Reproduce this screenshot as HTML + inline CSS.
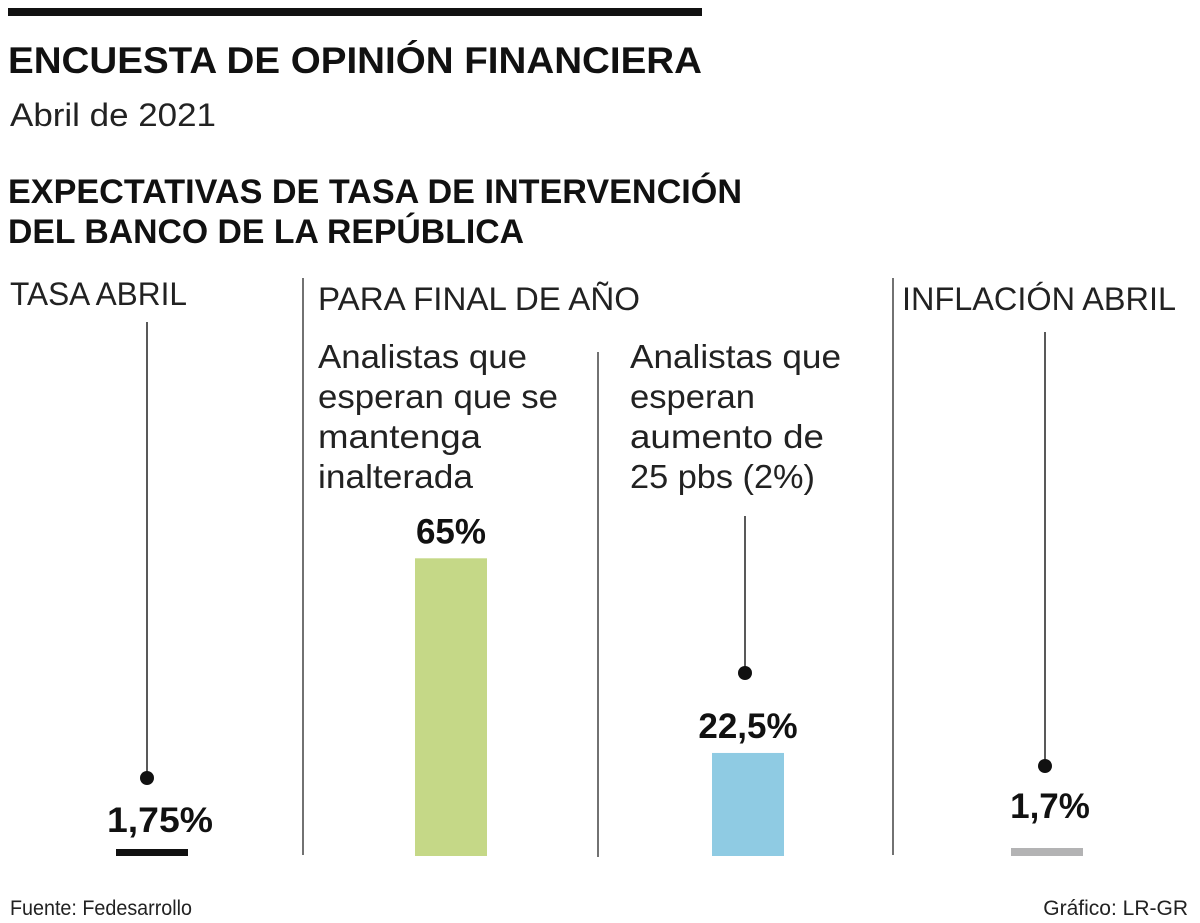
<!DOCTYPE html>
<html><head><meta charset="utf-8"><style>
html,body{margin:0;padding:0;background:#fff;}
svg{display:block;font-family:"Liberation Sans",sans-serif;}
</style></head><body>
<svg id="chart" width="1200" height="923" viewBox="0 0 1200 923">
<rect x="8" y="8" width="694" height="8" fill="#111"/>
<text x="8" y="73" font-size="37" font-weight="bold" textLength="694" lengthAdjust="spacingAndGlyphs" fill="#111">ENCUESTA DE OPINIÓN FINANCIERA</text>
<text x="10" y="126" font-size="32" textLength="206" lengthAdjust="spacingAndGlyphs" fill="#222">Abril de 2021</text>
<text x="8" y="203" font-size="34" font-weight="bold" textLength="734" lengthAdjust="spacingAndGlyphs" fill="#111">EXPECTATIVAS DE TASA DE INTERVENCIÓN</text>
<text x="8" y="243" font-size="34" font-weight="bold" textLength="516" lengthAdjust="spacingAndGlyphs" fill="#111">DEL BANCO DE LA REPÚBLICA</text>

<text x="10" y="305" font-size="32" textLength="177" lengthAdjust="spacingAndGlyphs" fill="#222">TASA ABRIL</text>
<text x="318" y="310" font-size="32" textLength="322" lengthAdjust="spacingAndGlyphs" fill="#222">PARA FINAL DE AÑO</text>
<text x="902" y="310" font-size="32" textLength="274" lengthAdjust="spacingAndGlyphs" fill="#222">INFLACIÓN ABRIL</text>

<line x1="303" y1="278" x2="303" y2="855" stroke="#444" stroke-width="1.5"/>
<line x1="598" y1="352" x2="598" y2="857" stroke="#444" stroke-width="1.5"/>
<line x1="893" y1="278" x2="893" y2="855" stroke="#444" stroke-width="1.5"/>

<g font-size="33" fill="#222">
<text x="318" y="368" textLength="209" lengthAdjust="spacingAndGlyphs">Analistas que</text>
<text x="318" y="408" textLength="240" lengthAdjust="spacingAndGlyphs">esperan que se</text>
<text x="318" y="448" textLength="163" lengthAdjust="spacingAndGlyphs">mantenga</text>
<text x="318" y="488" textLength="155" lengthAdjust="spacingAndGlyphs">inalterada</text>
</g>
<g font-size="33" fill="#222">
<text x="630" y="368" textLength="211" lengthAdjust="spacingAndGlyphs">Analistas que</text>
<text x="630" y="408" textLength="125" lengthAdjust="spacingAndGlyphs">esperan</text>
<text x="630" y="448" textLength="194" lengthAdjust="spacingAndGlyphs">aumento de</text>
<text x="630" y="488" textLength="185" lengthAdjust="spacingAndGlyphs">25 pbs (2%)</text>
</g>

<line x1="147" y1="322" x2="147" y2="778" stroke="#222" stroke-width="1.5"/>
<circle cx="147" cy="778" r="7" fill="#111"/>
<text x="160" y="832" font-size="35" font-weight="bold" text-anchor="middle" textLength="106" lengthAdjust="spacingAndGlyphs" fill="#111">1,75%</text>
<rect x="116" y="849" width="72" height="7" fill="#111"/>

<line x1="1045" y1="332" x2="1045" y2="766" stroke="#222" stroke-width="1.5"/>
<circle cx="1045" cy="766" r="7" fill="#111"/>
<text x="1050" y="818" font-size="35" font-weight="bold" text-anchor="middle" fill="#111">1,7%</text>
<rect x="1011" y="848" width="72" height="8" fill="#b3b3b4"/>

<line x1="745" y1="516" x2="745" y2="673" stroke="#222" stroke-width="1.5"/>
<circle cx="745" cy="673" r="7" fill="#111"/>

<g id="bars"></g>

<text x="10" y="915" font-size="21" textLength="182" lengthAdjust="spacingAndGlyphs" fill="#222">Fuente: Fedesarrollo</text>
<text x="1188" y="915" font-size="21" text-anchor="end" fill="#222">Gráfico: LR-GR</text>
</svg>
<script>
const categories = ["inalterada", "aumento 25 pbs"];
const values = [65, 22.5];
const labels = ["65%", "22,5%"];
const colors = ["#c5d887", "#8fcbe3"];
const baseY = 856, pxPerUnit = 4.58, barW = 72;
const barX = [415, 712];
function yScale(v){ return baseY - v * pxPerUnit; }
const g = document.getElementById('bars');
const ns = 'http://www.w3.org/2000/svg';
values.forEach((v, i) => {
  const r = document.createElementNS(ns, 'rect');
  r.setAttribute('x', barX[i]);
  r.setAttribute('y', yScale(v));
  r.setAttribute('width', barW);
  r.setAttribute('height', baseY - yScale(v));
  r.setAttribute('fill', colors[i]);
  
  
  g.appendChild(r);
  const t = document.createElementNS(ns, 'text');
  t.setAttribute('x', barX[i] + barW / 2);
  t.setAttribute('y', yScale(v) - 15);
  t.setAttribute('font-size', '35');
  t.setAttribute('font-weight', 'bold');
  t.setAttribute('text-anchor', 'middle');
  t.setAttribute('fill', '#111');
  t.textContent = labels[i];
  
  
  g.appendChild(t);
});
</script>
</body></html>
